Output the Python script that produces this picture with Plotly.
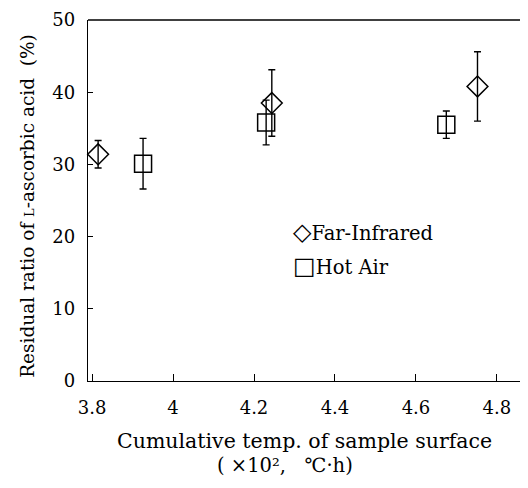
import plotly.graph_objects as go

# Far-Infrared
fir_x = [3.815, 4.244, 4.752]
fir_y = [31.4, 38.5, 40.8]
fir_err = [1.9, 4.6, 4.8]

# Hot Air
ha_x = [3.926, 4.230, 4.675]
ha_y = [30.1, 35.8, 35.5]
ha_err = [3.5, 3.1, 1.9]

y_ticks = [0, 10, 20, 30, 40, 50]
x_ticks = [3.8, 4.0, 4.2, 4.4, 4.6, 4.8]
x_tick_labels = ["3.8", "4", "4.2", "4.4", "4.6", "4.8"]

FONT = "DejaVu Serif"

fig = go.Figure()
fig.add_trace(go.Scatter(
    x=fir_x, y=fir_y, mode="markers", name="Far-Infrared",
    marker=dict(symbol="diamond-open", size=16, color="black", line=dict(width=1.5, color="black")),
    error_y=dict(type="data", array=fir_err, visible=True, color="black", thickness=1.4, width=3.5),
    cliponaxis=False,
))
fig.add_trace(go.Scatter(
    x=ha_x, y=ha_y, mode="markers", name="Hot Air",
    marker=dict(symbol="square-open", size=17, color="black", line=dict(width=1.5, color="black")),
    error_y=dict(type="data", array=ha_err, visible=True, color="black", thickness=1.4, width=3.5),
    cliponaxis=False,
))

fig.update_layout(
    width=512, height=472,
    margin=dict(l=80, r=0, t=12, b=99),
    paper_bgcolor="white", plot_bgcolor="white",
    showlegend=False,
    font=dict(family=FONT, size=18, color="black"),
    xaxis=dict(
        range=[3.79, 4.857], tickvals=x_ticks, ticktext=x_tick_labels,
        ticks="inside", ticklen=7, tickwidth=1.2, tickcolor="black",
        showline=True, linecolor="black", linewidth=1.3, mirror=False,
        showgrid=False, zeroline=False, ticklabelstandoff=10,
        tickfont=dict(family=FONT, size=18),
    ),
    yaxis=dict(
        range=[0, 50], tickvals=y_ticks,
        ticks="inside", ticklen=5, tickwidth=1.2, tickcolor="black",
        showline=True, linecolor="black", linewidth=1.3, mirror=False,
        showgrid=False, zeroline=False, ticklabelstandoff=8,
        tickfont=dict(family=FONT, size=18),
    ),
    shapes=[
        dict(type="line", xref="paper", yref="paper", x0=0, x1=1, y0=1, y1=1,
             line=dict(color="black", width=1.3)),
    ],
    annotations=[
        dict(text="Residual ratio of <span style='font-size:13px'>L</span>-ascorbic acid  (%)",
             xref="paper", yref="paper", x=-0.139, y=0.485, textangle=-90,
             showarrow=False, font=dict(family=FONT, size=18.5), xanchor="center", yanchor="middle"),
        dict(text="Cumulative temp. of sample surface",
             xref="paper", yref="paper", x=0.50, y=-0.166,
             showarrow=False, font=dict(family=FONT, size=20.5), xanchor="center", yanchor="middle"),
        dict(text="( ×10²,   ℃·h)",
             xref="paper", yref="paper", x=0.455, y=-0.235,
             showarrow=False, font=dict(family=FONT, size=19.5), xanchor="center", yanchor="middle"),
        dict(text="<span style='font-size:24px'>◇</span>Far-Infrared",
             xref="paper", yref="paper", x=0.470, y=0.413,
             showarrow=False, font=dict(family=FONT, size=19.5), xanchor="left", yanchor="middle"),
        dict(text="<span style='font-size:24px'>□</span>Hot Air",
             xref="paper", yref="paper", x=0.470, y=0.319,
             showarrow=False, font=dict(family=FONT, size=19.5), xanchor="left", yanchor="middle"),
    ],
)

fig.write_html("out.html")
